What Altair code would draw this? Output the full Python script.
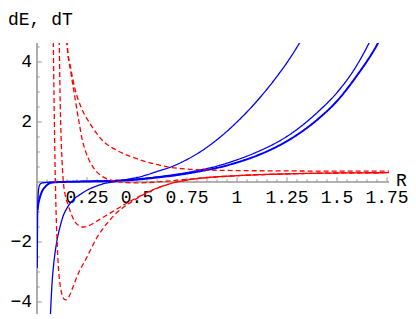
import altair as alt
import pandas as pd

# ---- curve data ----
A_R = [0.066, 0.075, 0.085, 0.1, 0.115, 0.13, 0.15, 0.18, 0.215, 0.26, 0.3, 0.35, 0.38, 0.42, 0.46, 0.5, 0.55, 0.6, 0.665, 0.75, 0.815, 0.9, 1.0, 1.1, 1.2, 1.25, 1.305, 1.34]
A_Y = [-4.6, -3.4, -2.65, -1.95, -1.5, -1.15, -0.87, -0.6, -0.42, -0.24, -0.13, -0.03, 0.0, 0.05, 0.1, 0.15, 0.24, 0.35, 0.49, 0.75, 1.0, 1.41, 2.0, 2.7, 3.52, 3.98, 4.55, 4.95]

B_R = [0.0015, 0.0025, 0.004, 0.006, 0.009, 0.013, 0.02, 0.04, 0.1, 0.2, 0.3, 0.4, 0.5, 0.6, 0.7, 0.8, 0.9, 1.0, 1.1, 1.165, 1.25, 1.365, 1.415, 1.5, 1.6, 1.66, 1.68]
B_Y = [-2.87, -1.6, -0.8, -0.4, -0.2, -0.1, -0.05, -0.02, 0.0, 0.02, 0.035, 0.05, 0.1, 0.17, 0.26, 0.38, 0.53, 0.74, 1.0, 1.2, 1.52, 2.1, 2.4, 2.98, 3.9, 4.63, 4.9]

C_R = [0.003, 0.007, 0.011, 0.015, 0.022, 0.03, 0.04, 0.05, 0.065, 0.09, 0.12, 0.2, 0.3, 0.4, 0.5, 0.6, 0.7, 0.8, 0.9, 1.0, 1.1, 1.2, 1.3, 1.4, 1.5, 1.6, 1.705, 1.73]
C_Y = [-0.93, -0.72, -0.6, -0.5, -0.36, -0.25, -0.17, -0.1, -0.04, -0.01, 0.0, 0.01, 0.025, 0.04, 0.08, 0.15, 0.23, 0.34, 0.47, 0.65, 0.88, 1.18, 1.57, 2.07, 2.7, 3.55, 4.63, 4.95]

D1_R = [0.079, 0.0817, 0.085, 0.09, 0.095, 0.1, 0.107, 0.115, 0.125, 0.135, 0.145, 0.16, 0.18, 0.2, 0.25, 0.3, 0.35, 0.4, 0.45, 0.5, 0.55, 0.6, 0.7, 0.8, 1.0, 1.25, 1.5, 1.76]
D1_Y = [6.0, 4.62, 2.9, 0.7, -0.9, -1.9, -2.85, -3.4, -3.75, -3.9, -3.93, -3.82, -3.5, -3.15, -2.5, -1.85, -1.38, -1.02, -0.76, -0.55, -0.36, -0.21, 0.0, 0.11, 0.21, 0.27, 0.3, 0.31]

D2_R = [0.109, 0.1115, 0.115, 0.12, 0.125, 0.13, 0.14, 0.155, 0.17, 0.19, 0.21, 0.23, 0.25, 0.3, 0.35, 0.4, 0.45, 0.5, 0.55, 0.6, 0.7, 0.8, 1.0, 1.25, 1.5, 1.76]
D2_Y = [5.8, 4.62, 3.0, 1.6, 0.75, 0.15, -0.4, -0.75, -1.05, -1.33, -1.46, -1.5, -1.48, -1.3, -1.1, -0.9, -0.7, -0.52, -0.35, -0.2, 0.0, 0.11, 0.21, 0.27, 0.3, 0.31]

D3_R = [0.147, 0.15, 0.17, 0.19, 0.21, 0.225, 0.245, 0.265, 0.3, 0.33, 0.365, 0.4, 0.45, 0.5, 0.6, 0.7, 0.8, 1.0, 1.25, 1.5, 1.76]
D3_Y = [5.0, 4.63, 3.63, 2.8, 2.0, 1.45, 0.98, 0.67, 0.33, 0.17, 0.07, 0.02, -0.02, -0.03, 0.0, 0.06, 0.12, 0.21, 0.27, 0.3, 0.31]

D4_R = [0.147, 0.15, 0.17, 0.19, 0.22, 0.265, 0.325, 0.4, 0.48, 0.565, 0.665, 0.75, 0.85, 1.0, 1.25, 1.5, 1.76]
D4_Y = [5.0, 4.63, 3.75, 3.1, 2.5, 1.95, 1.4, 1.05, 0.82, 0.64, 0.49, 0.43, 0.4, 0.38, 0.37, 0.36, 0.36]

# ---- axis ticks / labels ----
X_MAJOR = [0.25, 0.5, 0.75, 1.0, 1.25, 1.5, 1.75]
X_LABELS = ["0.25", "0.5", "0.75", "1", "1.25", "1.5", "1.75"]
X_MINOR = [0.05, 0.1, 0.15, 0.2, 0.3, 0.35, 0.4, 0.45, 0.55, 0.6, 0.65, 0.7,
           0.8, 0.85, 0.9, 0.95, 1.05, 1.1, 1.15, 1.2, 1.3, 1.35, 1.4, 1.45,
           1.55, 1.6, 1.65, 1.7]
Y_MAJOR = [-4, -2, 2, 4]
Y_LABELS = ["\u22124", "\u22122", "2", "4"]
Y_MINOR = [-3.5, -3, -2.5, -1.5, -1, -0.5, 0.5, 1, 1.5, 2.5, 3, 3.5, 4.5]

X_DOMAIN = [0, 1.76]
Y_DOMAIN = [-4.4, 4.633]

FONT = "Liberation Mono"
FS = 18
AXIS_COLOR = "#999999"

curves = [
    ("A", "dE", 1.3, A_R, A_Y),
    ("B", "dE", 1.3, B_R, B_Y),
    ("C", "dE", 2.0, C_R, C_Y),
    ("D1", "dT", 1.3, D1_R, D1_Y),
    ("D2", "dT", 1.3, D2_R, D2_Y),
    ("D3", "dT", 1.3, D3_R, D3_Y),
    ("D4", "dT", 1.3, D4_R, D4_Y),
]
rows = []
for name, kind, w, rs, ys in curves:
    for r, v in zip(rs, ys):
        rows.append({"curve": name, "kind": kind, "w": w, "R": r, "v": v})
df = pd.DataFrame(rows)

xs = alt.Scale(domain=X_DOMAIN, nice=False, zero=False)
ys = alt.Scale(domain=Y_DOMAIN, nice=False, zero=False)

def X(f):
    return alt.X(f, type="quantitative", scale=xs, axis=None)

def Y(f):
    return alt.Y(f, type="quantitative", scale=ys, axis=None)

# axis lines
axis_df = pd.DataFrame({"x1": [X_DOMAIN[0], 0], "x2": [X_DOMAIN[1], 0],
                        "y1": [0, Y_DOMAIN[0]], "y2": [0, Y_DOMAIN[1]]})
axes = alt.Chart(axis_df).mark_rule(color=AXIS_COLOR, strokeWidth=1.6).encode(
    x=X("x1"), x2="x2", y=Y("y1"), y2="y2")

# x ticks (pointing up), y ticks (pointing right)
xt = pd.DataFrame({"R": X_MAJOR + X_MINOR,
                   "y0": [0] * (len(X_MAJOR) + len(X_MINOR)),
                   "y1": [0.16] * len(X_MAJOR) + [0.09] * len(X_MINOR)})
xticks = alt.Chart(xt).mark_rule(color=AXIS_COLOR, strokeWidth=1).encode(
    x=X("R"), y=Y("y0"), y2="y1")
yt = pd.DataFrame({"v": Y_MAJOR + Y_MINOR,
                   "x0": [0] * (len(Y_MAJOR) + len(Y_MINOR)),
                   "x1": [0.024] * len(Y_MAJOR) + [0.0135] * len(Y_MINOR)})
yticks = alt.Chart(yt).mark_rule(color=AXIS_COLOR, strokeWidth=1).encode(
    x=X("x0"), x2="x1", y=Y("v"))

xl = pd.DataFrame({"R": X_MAJOR, "y": [0] * len(X_MAJOR), "t": X_LABELS})
xlabels = alt.Chart(xl).mark_text(font=FONT, fontSize=FS, color="black",
                                  align="center", baseline="alphabetic", dy=21).encode(
    x=X("R"), y=Y("y"), text="t:N")
yl = pd.DataFrame({"v": Y_MAJOR, "x": [0] * len(Y_MAJOR), "t": Y_LABELS})
ylabels = alt.Chart(yl).mark_text(font=FONT, fontSize=FS, color="black",
                                  align="right", baseline="middle", dx=-5).encode(
    x=X("x"), y=Y("v"), text="t:N")

titles_df = pd.DataFrame({"x": [0, X_DOMAIN[1]], "y": [Y_DOMAIN[1], 0],
                          "t": ["dE, dT", "R"]})
ytitle = alt.Chart(titles_df.iloc[[0]]).mark_text(
    font=FONT, fontSize=FS, color="black", align="left", baseline="alphabetic",
    dx=-29, dy=-18).encode(x=X("x"), y=Y("y"), text="t:N")
xtitle = alt.Chart(titles_df.iloc[[1]]).mark_text(
    font=FONT, fontSize=FS, color="black", align="left", baseline="alphabetic",
    dx=7, dy=4).encode(x=X("x"), y=Y("y"), text="t:N")

lines = alt.Chart(df).mark_line(clip=True, interpolate="monotone").encode(
    x=X("R"), y=Y("v"),
    detail="curve:N",
    color=alt.Color("kind:N", scale=alt.Scale(domain=["dE", "dT"], range=["#0000ff", "#ff0000"]), legend=None),
    strokeDash=alt.StrokeDash("kind:N", scale=alt.Scale(domain=["dE", "dT"], range=[[1, 0], [5, 3]]), legend=None),
    strokeWidth=alt.StrokeWidth("w:Q", scale=None),
)

chart = alt.layer(axes, xticks, yticks, xlabels, ylabels, ytitle, xtitle, lines).properties(
    width=352, height=271,
    autosize=alt.AutoSizeParams(type="none"),
    padding={"left": 29, "top": 35, "right": 19, "bottom": 2},
).configure_view(stroke=None)

chart.save("out.html", embed_options={"renderer": "svg", "actions": False})
